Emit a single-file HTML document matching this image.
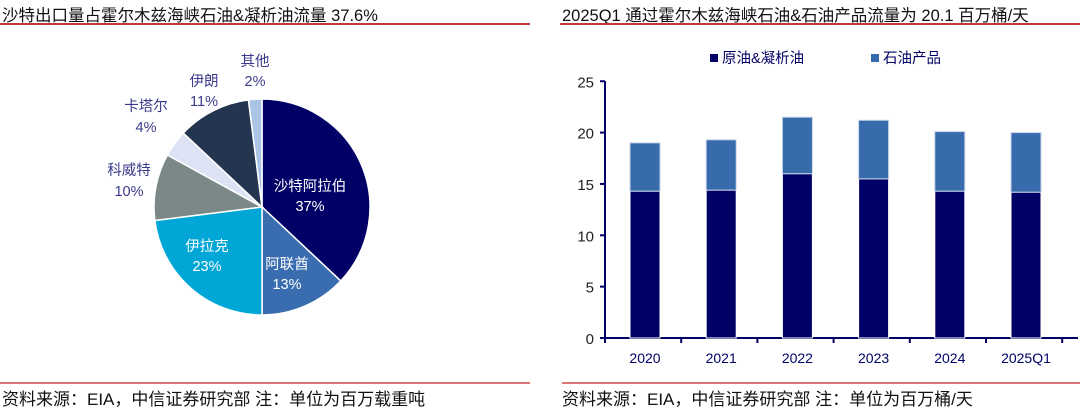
<!DOCTYPE html>
<html><head><meta charset="utf-8"><style>
body{margin:0;width:1080px;height:414px;background:#fff;overflow:hidden;font-family:"Liberation Sans","Noto Sans CJK SC",sans-serif}
.t{position:absolute;font-size:16.5px;color:#111;top:2px;white-space:nowrap}
.l{position:absolute;height:2px;background:#c0393b}
.s{position:absolute;font-size:17px;color:#111;top:385px;white-space:nowrap}
</style></head><body>
<div class="t" style="left:2px">沙特出口量占霍尔木兹海峡石油&amp;凝析油流量 37.6%</div>
<div class="t" style="left:562px">2025Q1 通过霍尔木兹海峡石油&amp;石油产品流量为 20.1 百万桶/天</div>
<div class="l" style="left:0;width:530px;top:23px"></div>
<div class="l" style="left:560px;width:520px;top:23px"></div>
<div class="l" style="left:0;width:530px;top:382px;background:#d77"></div>
<div class="l" style="left:562px;width:518px;top:382px;background:#d77"></div>
<div class="s" style="left:2px">资料来源：EIA，中信证券研究部 注：单位为百万载重吨</div>
<div class="s" style="left:562px">资料来源：EIA，中信证券研究部 注：单位为百万桶/天</div>
<svg id="sv" width="1080" height="414" style="position:absolute;left:0;top:0" font-family="Liberation Sans, Noto Sans CJK SC, sans-serif"></svg>
<script>
var s='';
var cx=262,cy=207,r=108;
var d=[[37,'#000066'],[13,'#3a6db0'],[23,'#00a6d6'],[10,'#7a8888'],[4,'#dde3f5'],[11,'#243550'],[2,'#a9c4e4']];
var a=0;
d.forEach(function(v){var a0=a/100*2*Math.PI,a1=(a+v[0])/100*2*Math.PI;a+=v[0];
var x0=cx+r*Math.sin(a0),y0=cy-r*Math.cos(a0),x1=cx+r*Math.sin(a1),y1=cy-r*Math.cos(a1);
s+='<path d="M'+cx+','+cy+'L'+x0+','+y0+'A'+r+','+r+' 0 '+(v[0]>50?1:0)+' 1 '+x1+','+y1+'Z" fill="'+v[1]+'" stroke="#fff" stroke-width="1.5"/>';});
function tx(x,y,t,c){s+='<text x="'+x+'" y="'+y+'" font-size="14.5" fill="'+c+'" text-anchor="middle">'+t+'</text>';}
tx(310,191,'沙特阿拉伯','#fff');tx(310,211,'37%','#fff');
tx(287,269,'阿联酋','#fff');tx(287,289,'13%','#fff');
tx(207,251,'伊拉克','#fff');tx(207,271,'23%','#fff');
tx(129,175,'科威特','#3a3a8a');tx(129,196,'10%','#3a3a8a');
tx(146,111,'卡塔尔','#3a3a8a');tx(146,132,'4%','#3a3a8a');
tx(204,86,'伊朗','#3a3a8a');tx(204,106,'11%','#3a3a8a');
tx(255,66,'其他','#3a3a8a');tx(255,86,'2%','#3a3a8a');
var y0=338,k=10.27;
s+='<line x1="605" y1="81" x2="605" y2="338" stroke="#000066" stroke-width="2"/>';
s+='<line x1="604" y1="338" x2="1078" y2="338" stroke="#000066" stroke-width="2"/>';
for(var i=0;i<=5;i++){var y=y0-i*5*k;s+='<line x1="600" y1="'+y+'" x2="605" y2="'+y+'" stroke="#000066" stroke-width="2"/>';
s+='<text x="594" y="'+(y+6)+'" font-size="15" fill="#222" text-anchor="end">'+(i*5)+'</text>';}
var bars=[['2020',14.3,19.0],['2021',14.4,19.3],['2022',16.0,21.5],['2023',15.5,21.2],['2024',14.3,20.1],['2025Q1',14.2,20.0]];
for(var i=0;i<=6;i++){var x=605+i*76.2;s+='<line x1="'+x+'" y1="338" x2="'+x+'" y2="343" stroke="#000066" stroke-width="2"/>';}
bars.forEach(function(b,i){var x=630+i*76.2;
s+='<rect x="'+x+'" y="'+(y0-b[1]*k)+'" width="30" height="'+(b[1]*k)+'" fill="#000066" stroke="#fff" stroke-width="1"/>';
s+='<rect x="'+x+'" y="'+(y0-b[2]*k)+'" width="30" height="'+((b[2]-b[1])*k)+'" fill="#376bac" stroke="#c9d6ea" stroke-width="1"/>';
s+='<text x="'+(x+15)+'" y="363" font-size="14" fill="#000066" text-anchor="middle">'+b[0]+'</text>';});
s+='<rect x="710" y="54" width="8" height="8" fill="#000066"/><text x="722" y="63" font-size="14.5" fill="#000066">原油&amp;凝析油</text>';
s+='<rect x="871" y="54" width="8" height="8" fill="#376bac"/><text x="883" y="63" font-size="14.5" fill="#000066">石油产品</text>';
document.getElementById('sv').innerHTML=s;
</script>
</body></html>
